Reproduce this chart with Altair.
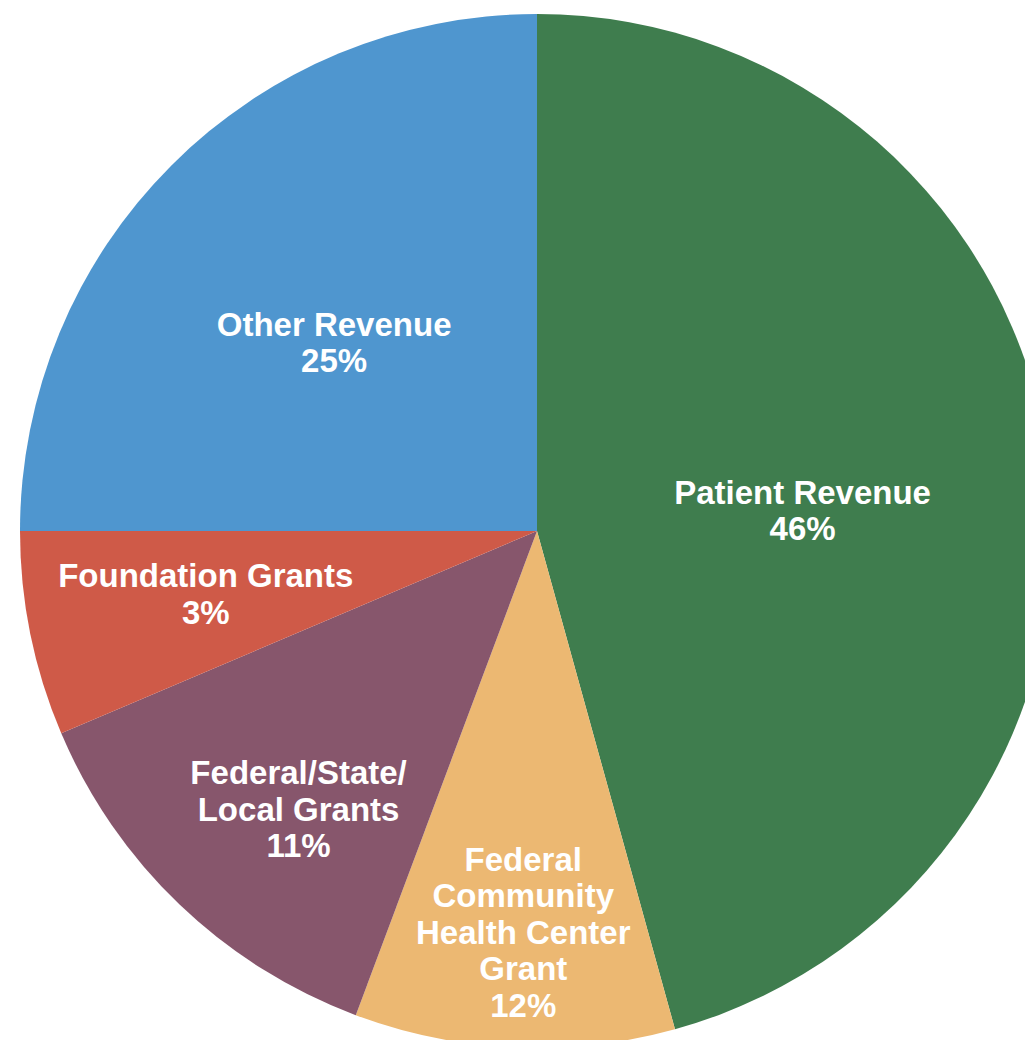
import altair as alt
import pandas as pd

categories = ["Patient Revenue", "Federal Community Health Center Grant",
              "Federal/State/Local Grants", "Foundation Grants", "Other Revenue"]
# slice sizes as drawn (share of the circle, %)
shares = [45.7, 10.0, 12.9, 6.4, 25.0]
# printed labels
label_lines = [
    ["Patient Revenue", "46%"],
    ["Federal", "Community", "Health Center", "Grant", "12%"],
    ["Federal/State/", "Local Grants", "11%"],
    ["Foundation Grants", "3%"],
    ["Other Revenue", "25%"],
]
colors = ["#3F7D4E", "#ECB872", "#87566C", "#CF5A48", "#4F96CF"]

df = pd.DataFrame({
    "category": categories,
    "share": shares,
    "order": list(range(len(categories))),
    "label": ["\n".join(l) for l in label_lines],
})

CX, CY, R = 529, 523, 517
LH = 36.5

base = alt.Chart(df).encode(
    theta=alt.Theta("share:Q", stack=True),
    order=alt.Order("order:Q"),
    x=alt.value(CX),
    y=alt.value(CY),
)

arcs = base.mark_arc(radius=R).encode(
    color=alt.Color("category:N", scale=alt.Scale(domain=categories, range=colors), legend=None)
)

# label layout: (radius, dx, dy) per category
label_layout = {
    "Patient Revenue": (266, 2, 17),
    "Federal Community Health Center Grant": (403, 4, 0),
    "Federal/State/Local Grants": (368, 16, 14),
    "Foundation Grants": (337, -1, -3),
    "Other Revenue": (277, -7, 9),
}

layers = [arcs]
for cat, lines in zip(categories, label_lines):
    r, dx, dy = label_layout[cat]
    dy = dy - (len(lines) - 1) * LH / 2
    t = base.transform_calculate(
        shown=f"datum.category === {cat!r} ? datum.label : ''"
    ).mark_text(
        radius=r, dx=dx, dy=dy, color="white", font="Liberation Sans",
        fontWeight="bold", fontSize=33, lineBreak="\n", lineHeight=LH,
        align="center", baseline="middle"
    ).encode(text="shown:N")
    layers.append(t)

chart = alt.layer(*layers).properties(
    width=1017, height=1032, padding=0,
    autosize=alt.AutoSizeParams(type="none"),
).configure_view(stroke=None)

chart.save("out.html", embed_options={"renderer": "svg", "actions": False})
